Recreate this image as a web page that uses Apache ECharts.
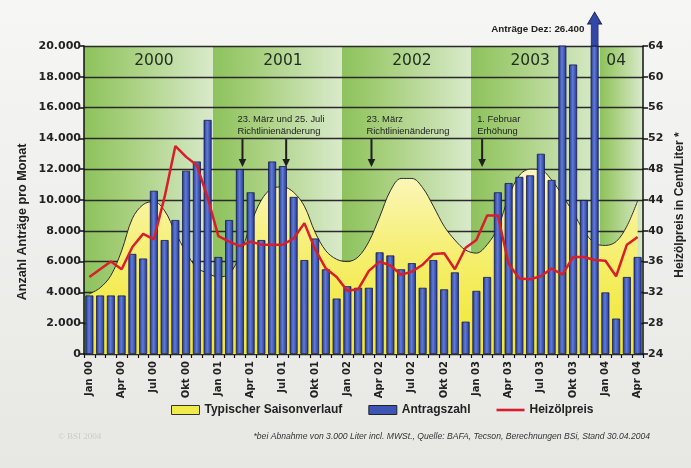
<!DOCTYPE html>
<html><head><meta charset="utf-8">
<script src="https://cdn.jsdelivr.net/npm/echarts@6/dist/echarts.min.js"></script>
<style>html,body{margin:0;padding:0;background:#ececea}#c{width:691px;height:468px}</style>
</head><body><div id="c"></div>
<script>
const categories = [
 'Jan 00','Feb 00','Mär 00','Apr 00','Mai 00','Jun 00','Jul 00','Aug 00','Sep 00','Okt 00','Nov 00','Dez 00',
 'Jan 01','Feb 01','Mär 01','Apr 01','Mai 01','Jun 01','Jul 01','Aug 01','Sep 01','Okt 01','Nov 01','Dez 01',
 'Jan 02','Feb 02','Mär 02','Apr 02','Mai 02','Jun 02','Jul 02','Aug 02','Sep 02','Okt 02','Nov 02','Dez 02',
 'Jan 03','Feb 03','Mär 03','Apr 03','Mai 03','Jun 03','Jul 03','Aug 03','Sep 03','Okt 03','Nov 03','Dez 03',
 'Jan 04','Feb 04','Mär 04','Apr 04'];

const antragszahl = [
 3800,3800,3800,3800,6500,6200,10600,7400,8700,11900,12500,15200,
 6300,8700,12000,10500,7400,12500,12200,10200,6100,7500,5500,3600,
 4400,4300,4300,6600,6400,5500,5900,4300,6100,4200,5300,2100,
 4100,5000,10500,11100,11500,11600,13000,11300,20200,18800,10000,26400,
 4000,2300,5000,6300];

const saisonverlauf = [
 3900,4300,5100,6700,8800,9700,9900,9300,7900,6600,5600,5250,
 5000,5200,6400,8400,10000,10750,10850,10500,9600,7900,6700,6150,
 6000,6300,7300,8900,10600,11400,11400,10800,9600,8300,7400,6750,
 6550,7100,8200,10200,11600,12000,11950,11300,10300,9200,8000,7200,
 7050,7300,8300,9950];

const heizoelpreis = [
 34.0,35.0,36.0,35.0,37.9,39.6,38.9,44.4,51.0,49.6,48.5,44.3,
 39.3,38.6,38.0,38.6,38.2,38.2,38.2,39.0,41.0,37.6,35.1,34.0,
 32.2,32.4,34.8,36.0,35.5,34.3,34.7,35.6,37.0,37.1,35.0,37.8,
 38.8,42.0,42.0,35.7,33.8,33.7,34.1,35.1,34.3,36.6,36.6,36.2,
 36.1,34.1,38.2,39.2];

const yearLabels = ['2000','2001','2002','2003','04'];
const yearLabelMonths = ['Jul 00','Jul 01','Jul 02','Jun 03','Feb 04'];

const eventMonths = ['Mär 01','Jul 01','Mär 02','Feb 03'];
const eventDays = [23,25,23,1];
const eventMonthLength = [31,31,31,28];
const eventTexts = [['23. März und 25. Juli','Richtlinienänderung'], null, ['23. März','Richtlinienänderung'], ['1. Februar','Erhöhung']];

const seriesNames = ['Typischer Saisonverlauf','Antragszahl','Heizölpreis'];
const leftAxisName = 'Anzahl Anträge pro Monat';
const rightAxisName = 'Heizölpreis in Cent/Liter *';
const footnote = '*bei Abnahme von 3.000 Liter incl. MWSt., Quelle: BAFA, Tecson, Berechnungen BSi, Stand 30.04.2004';
const copyright = '© BSI 2004';

const fmt = v => String(v).replace(/\B(?=(\d{3})+(?!\d))/g, '.');
const F = '"Liberation Sans", Arial, sans-serif';
const D = '"DejaVu Sans", Verdana, sans-serif';
const G = echarts.graphic;

const chart = echarts.init(document.getElementById('c'));
const bandGradient = new G.LinearGradient(0,0,1,0,[
  {offset:0,color:'#8dc25c'},{offset:0.35,color:'#a8d07e'},{offset:1,color:'#d9eacb'}]);

chart.setOption({
  animation:false,
  backgroundColor: new G.LinearGradient(0,0,0,1,[{offset:0,color:'#f6f6f4'},{offset:1,color:'#e7e7e4'}]),
  grid:{left:84,right:48,top:46,bottom:114},
  legend:{
    left:166, top:399, itemWidth:28, itemHeight:9, itemGap:26,
    textStyle:{fontFamily:F, fontWeight:'bold', fontSize:12, color:'#222'},
    data:[
      {name:seriesNames[0], icon:'rect', itemStyle:{color:'#f2ea48', borderColor:'#333', borderWidth:1}},
      {name:seriesNames[1], icon:'rect', itemStyle:{color:'#3d55b5', borderColor:'#222', borderWidth:1}},
      {name:seriesNames[2], icon:'path://M0,0 L28,0 L28,2.6 L0,2.6 Z', itemStyle:{color:'#d81e2c', borderWidth:0}}
    ]
  },
  xAxis:{
    type:'category', data:categories, boundaryGap:true, z:0,
    axisLine:{lineStyle:{color:'#111', width:1.5}},
    axisTick:{show:true, interval:0, length:4, lineStyle:{color:'#111', width:1.2}},
    axisLabel:{interval:2, rotate:90, fontFamily:D, fontWeight:'bold', fontSize:10, color:'#222', margin:7},
    splitLine:{show:false},
    splitArea:{show:true, interval:11, areaStyle:{color:[bandGradient]}}
  },
  yAxis:[
    {type:'value', min:0, max:20000, interval:2000, position:'left', z:1,
     axisLine:{show:true, lineStyle:{color:'#111', width:1.5}},
     axisTick:{show:true, length:5, lineStyle:{color:'#111', width:1.5}},
     axisLabel:{formatter:fmt, fontFamily:D, fontWeight:'bold', fontSize:11, color:'#222', margin:3},
     splitLine:{show:true, lineStyle:{color:'#2a2a2a', width:1.3}}},
    {type:'value', min:24, max:64, interval:4, position:'right', z:1,
     axisLine:{show:true, lineStyle:{color:'#111', width:1.5}},
     axisTick:{show:true, length:5, lineStyle:{color:'#111', width:1.5}},
     axisLabel:{fontFamily:D, fontWeight:'bold', fontSize:11, color:'#222', margin:5},
     splitLine:{show:false}}
  ],
  graphic:[
    {type:'text', x:23, y:222, rotation:Math.PI/2, silent:true,
     style:{text:leftAxisName, textAlign:'center', textVerticalAlign:'middle', font:'bold 12.6px '+F, fill:'#222'}},
    {type:'text', x:680, y:205, rotation:Math.PI/2, silent:true,
     style:{text:rightAxisName, textAlign:'center', textVerticalAlign:'middle', font:'bold 12px '+F, fill:'#222'}},
    {type:'text', x:650, y:437, silent:true,
     style:{text:footnote, textAlign:'right', textVerticalAlign:'middle', font:'italic 8.6px '+F, fill:'#333'}},
    {type:'text', x:58, y:437, silent:true,
     style:{text:copyright, textAlign:'left', textVerticalAlign:'middle', font:'9px "Liberation Serif", serif', fill:'#cbcbc8'}}
  ],
  series:[
    {name:seriesNames[0], type:'line', data:saisonverlauf, smooth:0.35, symbol:'none', z:2,
     lineStyle:{color:'#2b2b2b', width:1},
     itemStyle:{color:'#f2ea48'},
     areaStyle:{opacity:1, color:new G.LinearGradient(0,0,0,1,[{offset:0,color:'#fbf7bf'},{offset:0.5,color:'#f5ee6a'},{offset:1,color:'#f0e72e'}])},
     markPoint:{
       silent:true, symbol:'rect', symbolSize:1, itemStyle:{color:'rgba(0,0,0,0)'},
       data: yearLabels.map((t,i)=>({name:t, coord:[yearLabelMonths[i], 19050]})),
       label:{show:true, position:'inside', formatter:p=>p.name, fontFamily:D, fontSize:15.5, color:'#1f2d1f'}
     }},
    {name:seriesNames[1], type:'bar', data:antragszahl, barWidth:8, z:3, clip:true,
     itemStyle:{borderColor:'#161a4a', borderWidth:0.8,
       color:new G.LinearGradient(0,0,1,0,[{offset:0,color:'#22328f'},{offset:0.45,color:'#5f7cd6'},{offset:1,color:'#243392'}])},
     markPoint:{
       silent:true,
       symbol:'path://M3.5,34 L3.5,12 L0,12 L7,0 L14,12 L10.5,12 L10.5,34 Z',
       symbolSize:[14,34], symbolOffset:[0,-17], symbolKeepAspect:false,
       itemStyle:{color:'#3148a8', borderColor:'#161a4a', borderWidth:0.8},
       data:[{coord:['Dez 03', 20000], value:antragszahl[categories.indexOf('Dez 03')]}],
       label:{show:true, position:'left', distance:3, formatter:p=>'Anträge Dez: '+fmt(p.value),
         fontFamily:F, fontWeight:'bold', fontSize:9.8, color:'#222'}
     }},
    {name:seriesNames[2], type:'line', yAxisIndex:1, data:heizoelpreis, symbol:'none', z:4,
     itemStyle:{color:'#d81e2c'}, lineStyle:{color:'#d81e2c', width:2.5}},
    {type:'custom', coordinateSystem:'cartesian2d', z:5, silent:true,
     data:eventMonths.map(m=>[m, 13000]), encode:{x:0,y:1},
     renderItem:function(params, api){
       const i = params.dataIndex;
       const idx = categories.indexOf(eventMonths[i]);
       const band = api.size([1,0])[0];
       const x = api.coord([idx,0])[0] + band*(eventDays[i]/eventMonthLength[i]-0.5);
       const yTop = api.coord([idx,13950])[1];
       const yTip = api.coord([idx,12150])[1];
       const ch = [
         {type:'line', shape:{x1:x,y1:yTop,x2:x,y2:yTip-6}, style:{stroke:'#1e1e1e', lineWidth:2}},
         {type:'polygon', shape:{points:[[x-3.8,yTip-8],[x+3.8,yTip-8],[x,yTip]]}, style:{fill:'#1e1e1e'}}
       ];
       if (eventTexts[i]) ch.push({type:'text', x:x-5, y:api.coord([idx,15650])[1],
         style:{text:eventTexts[i].join('\n'), fill:'#222', font:'9.4px '+F, lineHeight:12.5, textAlign:'left', textVerticalAlign:'top'}});
       return {type:'group', children:ch};
     }}
  ]
});
</script></body></html>
